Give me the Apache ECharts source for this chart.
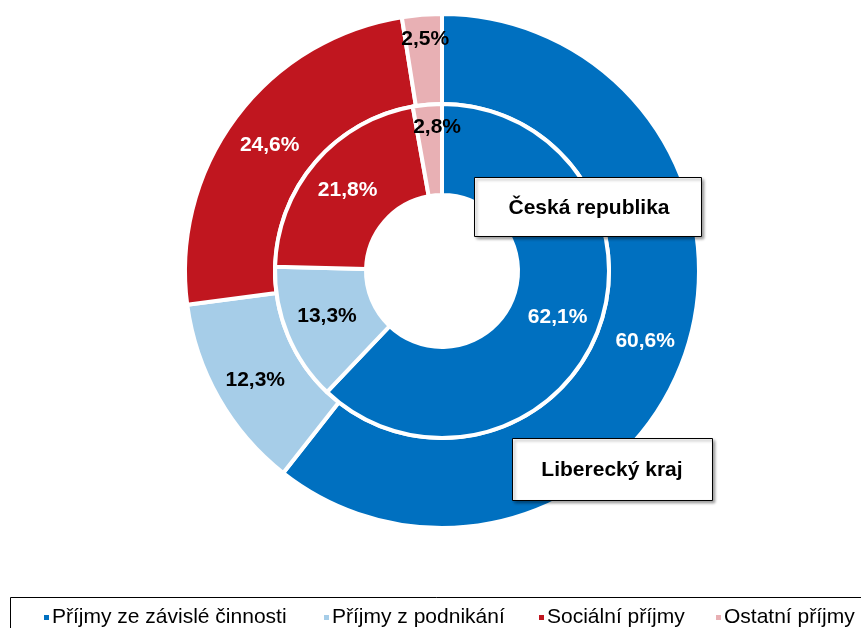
<!DOCTYPE html>
<html><head><meta charset="utf-8">
<script src="https://cdn.jsdelivr.net/npm/echarts@6/dist/echarts.min.js"></script>
<style>html,body{margin:0;padding:0;background:#fff}#c{width:861px;height:628px}</style>
</head><body><div id="c"></div>
<script>
const categories = ['Příjmy ze závislé činnosti', 'Příjmy z podnikání', 'Sociální příjmy', 'Ostatní příjmy'];
const liberecValues = [60.6, 12.3, 24.6, 2.5];
const ceskaValues = [62.1, 13.3, 21.8, 2.8];
const colors = ['#0070C0', '#A6CDE8', '#C0161F', '#E8B0B4'];
const labelColors = ['#fff', '#000', '#fff', '#000'];
const seriesNames = ['Liberecký kraj', 'Česká republika'];

const font = 'Liberation Sans, Arial, sans-serif';
function fmt(v){ return v.toFixed(1).replace('.', ',') + '%'; }
const outerOffsets = [[0,0],[0,3],[0,3],[0,-17]];
const innerOffsets = [[0,0],[0,-2],[0,0],[6,-20]];
function mk(vals, offs){
  return vals.map((v,i)=>({name:categories[i], value:v,
    itemStyle:{color:colors[i]},
    label:{color:labelColors[i], offset:offs[i]}}));
}
const legendLefts = [37, 317, 532, 709];
const chart = echarts.init(document.getElementById('c'));
chart.setOption({
  animation:false,
  color: colors,
  legend: categories.map((c,i)=>({
    data:[c], left: legendLefts[i], top: 602, icon:'rect', itemWidth:7, itemHeight:7,
    textStyle:{fontFamily:font, fontSize:21, color:'#000', padding:[0,0,0,-3]}
  })),
  series:[
    {name:seriesNames[0], type:'pie', center:[442,271], radius:[167,257], startAngle:90, clockwise:true,
     itemStyle:{borderColor:'#fff', borderWidth:4},
     label:{position:'inside', formatter:p=>fmt(p.value), fontFamily:font, fontWeight:'bold', fontSize:21},
     labelLine:{show:false}, data: mk(liberecValues, outerOffsets)},
    {name:seriesNames[1], type:'pie', center:[442,271], radius:[76,167], startAngle:90, clockwise:true,
     itemStyle:{borderColor:'#fff', borderWidth:4},
     label:{position:'inside', formatter:p=>fmt(p.value), fontFamily:font, fontWeight:'bold', fontSize:21},
     labelLine:{show:false}, data: mk(ceskaValues, innerOffsets)}
  ],
  graphic:[
    {type:'rect', shape:{x:10.5,y:597.5,width:870,height:50}, style:{fill:'#fff', stroke:'#000', lineWidth:1}, z:-1},
    {type:'rect', shape:{x:474.5,y:177.5,width:227,height:59}, style:{fill:'#fff', stroke:'#000', lineWidth:1, shadowBlur:3, shadowOffsetX:2, shadowOffsetY:2, shadowColor:'rgba(0,0,0,0.4)'}, z:10},
    {type:'text', x:589, y:208, style:{text:seriesNames[1], fontFamily:font, fontWeight:'bold', fontSize:21, fill:'#000', align:'center', verticalAlign:'middle'}, z:11},
    {type:'rect', shape:{x:512.5,y:438.5,width:200,height:62}, style:{fill:'#fff', stroke:'#000', lineWidth:1, shadowBlur:3, shadowOffsetX:2, shadowOffsetY:2, shadowColor:'rgba(0,0,0,0.4)'}, z:10},
    {type:'text', x:612, y:470, style:{text:seriesNames[0], fontFamily:font, fontWeight:'bold', fontSize:21, fill:'#000', align:'center', verticalAlign:'middle'}, z:11}
  ]
});
</script></body></html>
